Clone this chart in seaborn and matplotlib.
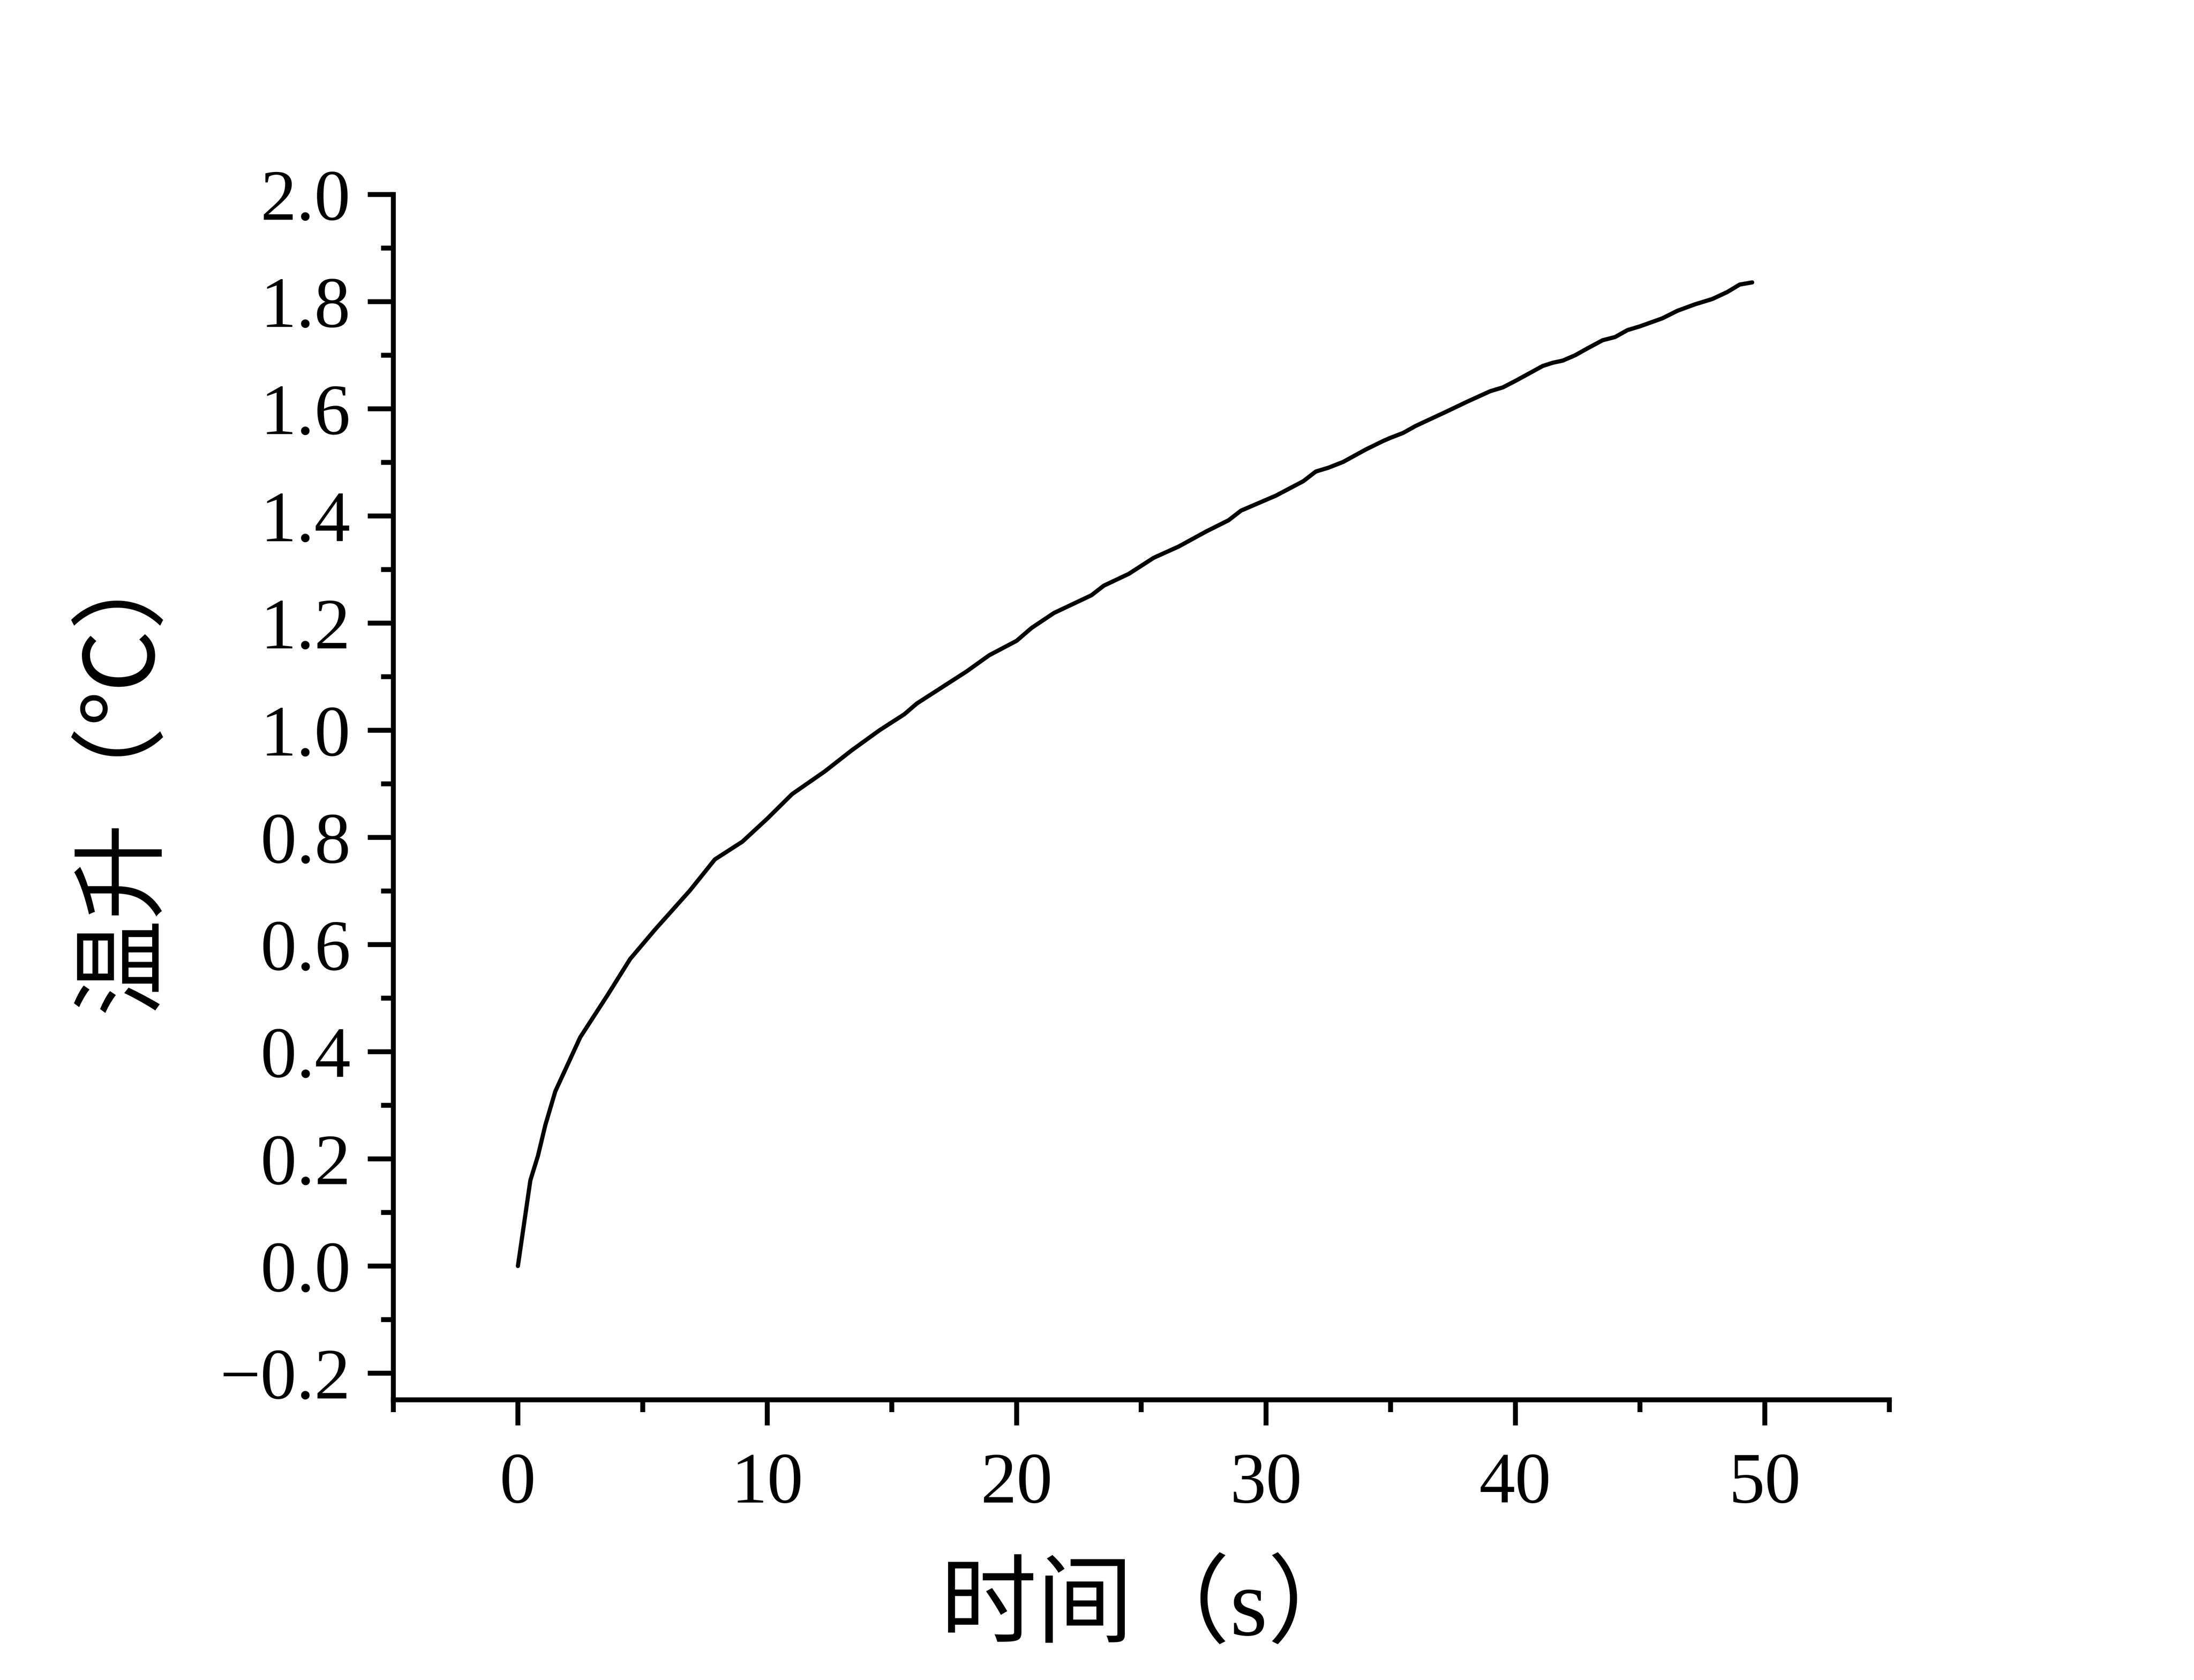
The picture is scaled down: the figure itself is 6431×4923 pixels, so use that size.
import matplotlib
matplotlib.use("Agg")
import matplotlib.pyplot as plt
import seaborn as sns
import pandas as pd
from matplotlib.ticker import MultipleLocator, FuncFormatter

# ---- data ----
time_s = [0.0, 0.5, 0.8, 1.1, 1.5, 2.5, 3.6, 4.5, 5.5, 6.9, 7.9, 9.0, 10.0,
          11.0, 12.3, 13.4, 14.5, 15.5, 16.0, 17.0, 18.0, 18.9, 20.0, 20.6,
          21.5, 23.0, 23.5, 24.5, 25.5, 26.5, 27.6, 28.5, 29.0, 30.4, 31.5,
          32.0, 32.5, 33.1, 34.0, 34.7, 35.0, 35.5, 36.0, 37.2, 38.1, 39.0,
          39.5, 40.0, 41.1, 41.5, 41.9, 42.4, 42.9, 43.5, 44.0, 44.5, 45.0,
          45.9, 46.5, 47.2, 47.9, 48.5, 49.0, 49.5]
temp_rise = [0.0, 0.160, 0.205, 0.263, 0.326, 0.427, 0.506, 0.573, 0.628,
             0.701, 0.759, 0.792, 0.835, 0.881, 0.923, 0.963, 1.000, 1.030,
             1.050, 1.080, 1.110, 1.140, 1.167, 1.191, 1.219, 1.252, 1.270,
             1.292, 1.322, 1.343, 1.371, 1.392, 1.410, 1.438, 1.465, 1.483,
             1.490, 1.501, 1.524, 1.540, 1.546, 1.555, 1.568, 1.594, 1.614,
             1.633, 1.640, 1.652, 1.680, 1.686, 1.690, 1.700, 1.713, 1.728,
             1.734, 1.747, 1.754, 1.769, 1.783, 1.795, 1.805, 1.818, 1.832,
             1.836]
x_label = "时间（s）"
y_label = "温升（℃）"

df = pd.DataFrame({"t": time_s, "v": temp_rise})

sns.set_style("ticks")
fams = ["Liberation Serif", "Noto Sans CJK SC", "DejaVu Sans"]
plt.rcParams["font.family"] = fams

fig = plt.figure(figsize=(16.08, 12.3075), dpi=400)
ax = fig.add_axes([0.1792, 0.1667, 0.861 - 0.1792, 0.8842 - 0.1667])

sns.lineplot(data=df, x="t", y="v", ax=ax, color="black", linewidth=2.2,
             estimator=None, sort=False)

ax.set_xlim(-5, 55)
ax.set_ylim(-0.25, 2.0)
ax.xaxis.set_major_locator(MultipleLocator(10))
ax.xaxis.set_minor_locator(MultipleLocator(5))
ax.yaxis.set_major_locator(MultipleLocator(0.2))
ax.yaxis.set_minor_locator(MultipleLocator(0.1))
ax.yaxis.set_major_formatter(
    FuncFormatter(lambda v, p: f"{v:.1f}".replace("-", "\u2212")))
ax.xaxis.set_major_formatter(
    FuncFormatter(lambda v, p: f"{v:.0f}".replace("-", "\u2212")))

for side in ["top", "right"]:
    ax.spines[side].set_visible(False)
for side in ["left", "bottom"]:
    ax.spines[side].set_linewidth(2.6)
    ax.spines[side].set_color("black")

ax.tick_params(axis="both", which="major", direction="out", length=13.5,
               width=2.6, colors="black", labelsize=38)
ax.tick_params(axis="both", which="minor", direction="out", length=6.5,
               width=2.6, colors="black")
ax.tick_params(axis="x", which="major", pad=14)
ax.tick_params(axis="y", which="major", pad=9)

ax.set_xlabel("")
ax.set_ylabel("")
fig.text(0.525, 0.042, x_label, ha="center", va="center", fontsize=51,
         family=fams, color="black")
fig.text(0.057, 0.541, y_label, ha="center", va="center", rotation=90,
         fontsize=51, family=fams, color="black")

fig.savefig("out.png", dpi=400, facecolor="white")
